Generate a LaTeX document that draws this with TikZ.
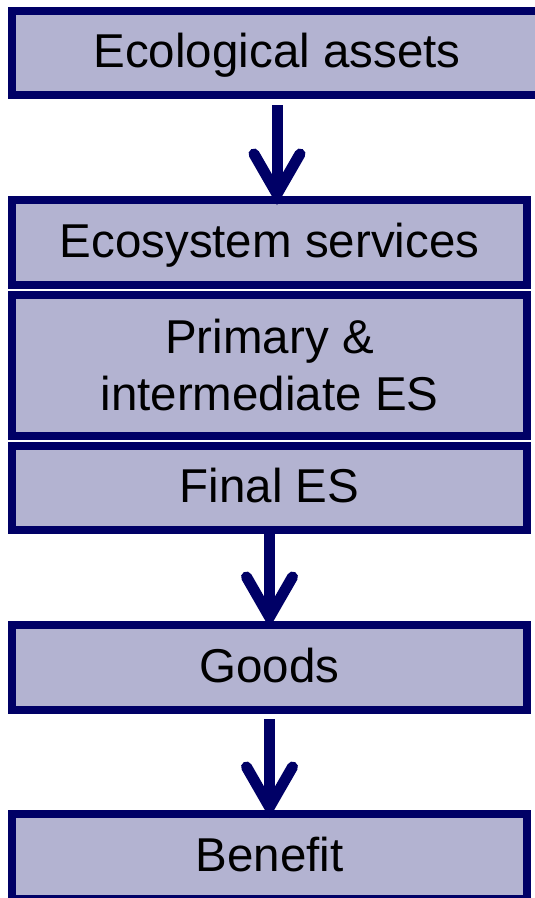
\documentclass[tikz,border=0pt]{standalone}
\usepackage{fontspec}
\setmainfont{Liberation Sans}
\usetikzlibrary{arrows.meta}
\definecolor{esnavy}{RGB}{0,0,102}
\definecolor{eslav}{RGB}{179,179,209}

\begin{document}
\begin{tikzpicture}[x=1pt, y=-1pt,
	esbox/.style={draw=esnavy, fill=eslav, line width=8pt, rectangle, inner sep=0pt,
		minimum width=515pt, minimum height=85pt, align=center,
		font=\fontsize{47.5}{57}\selectfont},
	oneline/.style={text height=36pt, text depth=7pt},
	flow/.style={draw=esnavy, line width=11pt,
		-{Straight Barb[length=40pt, width=46pt, line cap=round, line join=miter]}}]
	\useasboundingbox (0, 0) rectangle (535, 898);
	\node[esbox, oneline, minimum width=530pt, minimum height=84pt] at (277, 53) (assets) {Ecological assets};
	\node[esbox, oneline] at (269.5, 242.5) (services) {Ecosystem services};
	\node[esbox, minimum height=141pt] at (269.5, 365.5) (primary) {Primary \&\\intermediate ES};
	\node[esbox, oneline, minimum height=84pt] at (269.5, 488) (final) {Final ES};
	\node[esbox, oneline] at (269.5, 667.5) (goods) {Goods};
	\node[esbox, oneline] at (269.5, 856.5) (benefit) {Benefit};
	\draw[flow] ([yshift=-6pt]assets.south) -- ([yshift=-9pt]assets.south |- services.north);
	\draw[flow] (final.south) -- ([yshift=-7pt]goods.north);
	\draw[flow] ([yshift=-5pt]goods.south) -- ([yshift=-8pt]benefit.north);
\end{tikzpicture}
\end{document}
